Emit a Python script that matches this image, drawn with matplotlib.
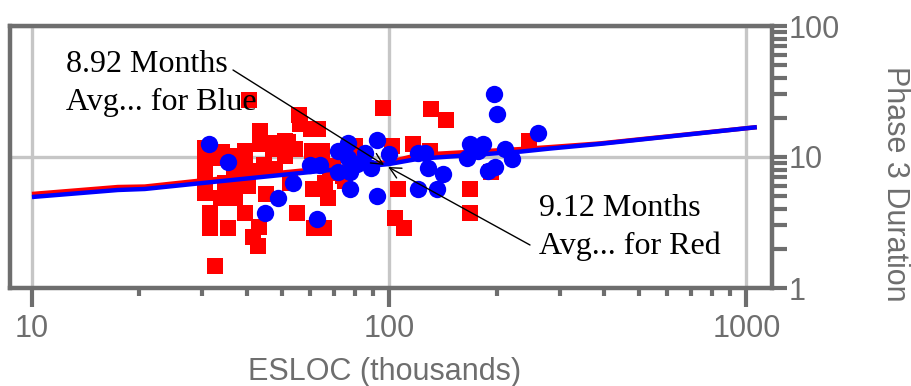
import matplotlib
matplotlib.use("Agg")
import matplotlib.pyplot as plt
from matplotlib.ticker import LogLocator, NullFormatter, FixedLocator, FixedFormatter

# ---- data -------------------------------------------------------------
red_x = [40.5, 96.2, 131.2, 144.4, 246.8, 55.9, 60.5, 63.3, 60.9, 64.9,
         101.9, 116.7, 130.3, 168.6, 105.9, 103.9, 110.2, 168.6, 193.1, 61.7,
         65.7, 32.6, 31.5, 31.5, 35.4, 39.5, 43.2, 41.6, 43.0, 55.2,
         30.5, 30.5, 30.5, 30.5, 34.1, 36.8, 36.8, 39.5, 39.5, 43.5,
         43.5, 47.3, 51.1, 54.5, 44.7, 41.3, 47.9, 34.7, 36.3, 37.0,
         40.3, 45.2, 52.8, 61.2, 66.2, 67.5, 75.3, 68.4, 74.3, 80.3,
         47.0, 52.1, 33.1, 69.5, 56.3, 51.1, 33.8, 38.5, 80.3]
red_y = [27.2, 23.7, 23.2, 19.2, 13.3, 20.9, 16.4, 16.4, 11.1, 11.1,
         12.1, 12.6, 11.1, 5.70, 5.70, 3.42, 2.87, 3.74, 7.68, 2.87,
         2.87, 1.47, 3.74, 2.87, 2.87, 3.74, 2.92, 2.45, 2.09, 3.74,
         11.7, 9.00, 6.79, 5.31, 10.9, 10.2, 8.10, 11.1, 8.54, 15.8,
         12.6, 11.5, 13.3, 11.5, 8.69, 7.82, 8.10, 6.33, 5.50, 4.86,
         6.01, 5.22, 6.33, 5.70, 6.33, 4.86, 6.56, 7.55, 7.16, 10.2,
         12.8, 13.0, 9.83, 8.54, 17.9, 10.2, 4.86, 6.79, 12.1]

blue_x = [31.3, 35.4, 48.9, 45.0, 53.8, 60.1, 64.1, 62.9, 72.0, 76.8,
          72.0, 77.8, 76.8, 81.3, 85.6, 89.1, 92.5, 100.0, 77.8, 92.5,
          120.6, 136.3, 120.6, 126.1, 128.5, 141.6, 168.6, 183.4, 165.3, 177.6,
          189.3, 198.2, 196.9, 200.9, 211.5, 221.2, 261.4]
blue_y = [12.6, 9.16, 4.86, 3.74, 6.33, 8.69, 8.69, 3.36, 11.1, 12.8,
          7.68, 7.68, 9.83, 8.84, 10.7, 8.24, 13.5, 10.5, 5.70, 5.04,
          5.70, 5.70, 10.7, 10.7, 8.24, 7.41, 12.6, 12.6, 9.83, 11.1,
          7.82, 8.39, 30.3, 21.3, 11.5, 9.66, 15.3]

red_fit_x = [10, 17.4, 20.7, 29.5, 100, 121, 234, 282, 390, 1070]
red_fit_y = [5.22, 5.9, 5.95, 6.6, 9.16, 10.4, 11.5, 11.9, 12.7, 16.9]
blue_fit_x = [10, 17.4, 20.7, 29.5, 100, 121, 234, 282, 390, 1070]
blue_fit_y = [4.95, 5.6, 5.7, 6.3, 8.84, 9.7, 11.0, 11.6, 12.6, 16.9]

x_ticks = [10, 100, 1000]
x_tick_labels = ["10", "100", "1000"]
x_minor_ticks = [20, 30, 40, 50, 60, 70, 80, 90,
                 200, 300, 400, 500, 600, 700, 800, 900]
y_ticks = [1, 10, 100]
y_tick_labels = ["1", "10", "100"]

blue_avg_text = ["8.92 Months", "Avg... for Blue"]
red_avg_text = ["9.12 Months", "Avg... for Red"]
blue_arrow_tip = (96.8, 8.69)
red_arrow_tip = (99.4, 8.39)

# ---- styling ----------------------------------------------------------
GREY = "#6e6e6e"
GRID = "#c6c6c6"
SANS = ["Liberation Sans", "DejaVu Sans"]
SERIF = ["Liberation Serif", "DejaVu Serif"]
FS = 22

W, H = 912, 386
fig = plt.figure(figsize=(W / 100, H / 100), dpi=100)
ax = fig.add_axes([10 / W, (H - 288) / H, 762 / W, (288 - 26) / H])

ax.set_xscale("log")
ax.set_yscale("log")
ax.set_xlim(8.68, 1180)
ax.set_ylim(1.0, 100)

# markers and fitted curves
ax.plot(red_x, red_y, linestyle="none", marker="s", markersize=11.5,
        color="#ff0000", markeredgewidth=0, zorder=3)
ax.plot(red_fit_x, red_fit_y, color="#ff0000", lw=3.2, zorder=4,
        solid_capstyle="butt")
ax.plot(blue_fit_x, blue_fit_y, color="#0000ff", lw=3.2, zorder=5,
        solid_capstyle="butt")
ax.plot(blue_x, blue_y, linestyle="none", marker="o", markersize=12.5,
        color="#0000ff", markeredgewidth=0, zorder=6)

# grid on major ticks
ax.grid(True, which="major", color=GRID, lw=2.4, zorder=1)
ax.set_axisbelow(True)

# spines
for side in ["left", "right", "top", "bottom"]:
    ax.spines[side].set_color(GREY)
    ax.spines[side].set_linewidth(3.2)

# x axis ticks
ax.xaxis.set_major_locator(FixedLocator(x_ticks))
ax.xaxis.set_major_formatter(FixedFormatter(x_tick_labels))
ax.xaxis.set_minor_locator(FixedLocator(x_minor_ticks))
ax.xaxis.set_minor_formatter(NullFormatter())
ax.tick_params(axis="x", which="major", direction="out", length=14, width=3,
               color=GREY, labelcolor=GREY, labelsize=FS, pad=5)
ax.tick_params(axis="x", which="minor", direction="out", length=6, width=3,
               color=GREY)
for lbl in ax.get_xticklabels():
    lbl.set_fontfamily(SANS)

# y axis on the right
ax.yaxis.tick_right()
ax.yaxis.set_major_locator(FixedLocator(y_ticks))
ax.yaxis.set_major_formatter(FixedFormatter(y_tick_labels))
ax.yaxis.set_minor_locator(LogLocator(base=10, subs=range(2, 10)))
ax.yaxis.set_minor_formatter(NullFormatter())
ax.tick_params(axis="y", which="both", direction="out", length=11, width=3,
               color=GREY, labelcolor=GREY, labelsize=FS, pad=1,
               left=False, right=True)
for lbl in ax.get_yticklabels():
    lbl.set_fontfamily(SANS)

# axis titles
fig.text(385 / W, (H - 380) / H, "ESLOC (thousands)", ha="center",
         va="baseline", fontsize=FS, color=GREY, family=SANS)
fig.text(895 / W, (H - 184) / H, "Phase 3 Duration", ha="center",
         va="center", rotation=270, fontsize=FS, color=GREY, family=SANS)

# average annotations
TXT = dict(fontsize=23, color="black", family=SERIF, ha="left", va="baseline")
fig.text(66 / W, (H - 72) / H, blue_avg_text[0], **TXT)
fig.text(66 / W, (H - 110) / H, blue_avg_text[1], **TXT)
fig.text(539 / W, (H - 216) / H, red_avg_text[0], **TXT)
fig.text(539 / W, (H - 254) / H, red_avg_text[1], **TXT)

ARROW = dict(arrowstyle="->,head_length=0.5,head_width=0.25", color="black",
             lw=1.0, shrinkA=0, shrinkB=0, mutation_scale=16)
ax.annotate("", xy=blue_arrow_tip, xycoords="data",
            xytext=(233, H - 70), textcoords="figure pixels",
            arrowprops=ARROW, zorder=8)
ax.annotate("", xy=red_arrow_tip, xycoords="data",
            xytext=(530, H - 245), textcoords="figure pixels",
            arrowprops=ARROW, zorder=8)

fig.savefig("out.png", dpi=100)
